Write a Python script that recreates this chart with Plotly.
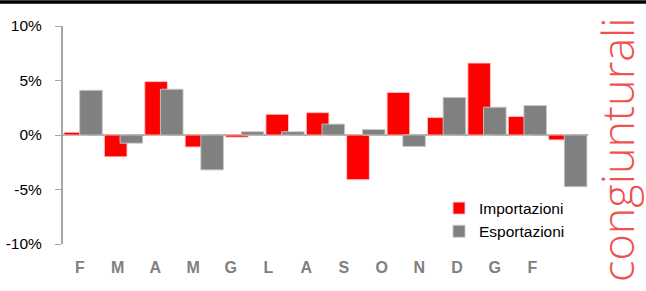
import plotly.graph_objects as go

months = ["F", "M", "A", "M", "G", "L", "A", "S", "O", "N", "D", "G", "F"]
importazioni = [0.25, -2.0, 4.9, -1.1, -0.2, 1.9, 2.05, -4.1, 3.9, 1.6, 6.6, 1.7, -0.45]
esportazioni = [4.1, -0.75, 4.2, -3.2, 0.3, 0.3, 1.0, 0.5, -1.05, 3.45, 2.55, 2.7, -4.75]
y_ticks = [-10, -5, 0, 5, 10]
y_tick_labels = ["-10%", "-5%", "0%", "5%", "10%"]

idx = list(range(len(months)))
FONT = "Liberation Sans, Arial, sans-serif"

fig = go.Figure()
fig.add_trace(go.Bar(
    x=idx, y=importazioni, name="Importazioni",
    marker=dict(color="#FF0000", line=dict(color="rgba(255,200,200,0.9)", width=1)),
    width=0.56, offset=-0.475,
))
fig.add_trace(go.Bar(
    x=idx, y=esportazioni, name="Esportazioni",
    marker=dict(color="#808080", line=dict(color="rgba(200,200,200,0.9)", width=1)),
    width=0.56, offset=-0.087,
))
# invisible trace to attach the label axis
fig.add_trace(go.Scatter(x=[0], y=[0], xaxis="x2", mode="markers",
                         marker=dict(opacity=0), showlegend=False, hoverinfo="skip"))

fig.update_layout(
    width=646, height=291,
    margin=dict(l=63, r=58, t=26, b=47, autoexpand=False),
    paper_bgcolor="white", plot_bgcolor="white",
    barmode="overlay",
    font=dict(family=FONT, size=15.5, color="#000000"),
    xaxis=dict(range=[-0.5, 12.5], showticklabels=False, showgrid=False,
               zeroline=False, showline=False, ticks="", automargin=False),
    xaxis2=dict(overlaying="x", anchor="y", side="bottom", automargin=False,
                range=[-0.451, 13.475], tickmode="array", tickvals=idx,
                ticktext=months, showgrid=False, zeroline=False, showline=False,
                ticks="", ticklabelstandoff=12,
                tickfont=dict(family=FONT, size=16, color="#808080", weight="bold")),
    yaxis=dict(range=[-10, 10], tickmode="array", tickvals=y_ticks,
               ticktext=y_tick_labels, showgrid=False, automargin=False,
               showline=True, linecolor="#A6A6A6", linewidth=2,
               ticks="outside", ticklen=6, tickwidth=1, tickcolor="#A6A6A6",
               zeroline=True, zerolinecolor="#A6A6A6", zerolinewidth=2,
               ticklabelstandoff=10,
               tickfont=dict(family=FONT, size=15.5, color="#000000")),
    legend=dict(x=(439 - 63) / 525, y=0.11, xanchor="left", yanchor="middle",
                bgcolor="rgba(0,0,0,0)", font=dict(family=FONT, size=15.5, color="#000000"),
                itemwidth=30, tracegroupgap=0),
    showlegend=True,
    shapes=[dict(type="line", xref="paper", yref="paper",
                 x0=-0.13, x1=1.12, y0=(244 - 2) / 218, y1=(244 - 2) / 218,
                 line=dict(color="#000000", width=3.5))],
    annotations=[dict(text="congiunturali", textangle=-90, xref="paper", yref="paper",
                      x=(616 - 63) / 525, y=(244 - 150) / 218, xanchor="center", yanchor="middle",
                      showarrow=False,
                      font=dict(family="Open Sans, sans-serif", size=45,
                                color="#F05050", weight=300))],
)

fig.write_html("out.html", config={"displayModeBar": False},
               post_script="document.body.style.margin='0';")
